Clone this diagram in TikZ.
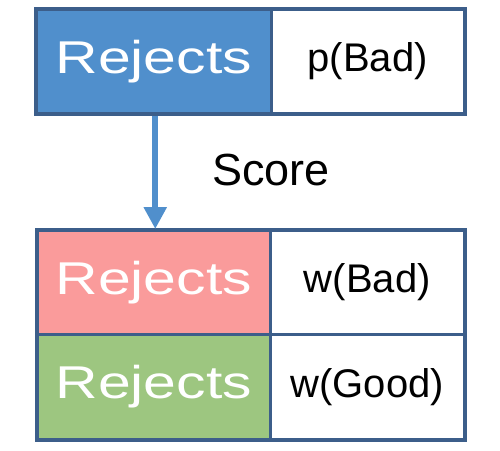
\documentclass[tikz,border=0pt]{standalone}
\usepackage{fontspec}
\setmainfont{Liberation Sans}
\usetikzlibrary{arrows.meta}
\definecolor{cellblue}{RGB}{80,143,204}
\definecolor{cellpink}{RGB}{250,155,155}
\definecolor{cellgreen}{RGB}{157,198,128}
\definecolor{edgeblue}{RGB}{60,94,138}
\definecolor{arrowblue}{RGB}{80,143,204}
\newcommand{\rej}{\scalebox{1.28}[1]{\fontsize{46}{50}\selectfont Rejects}}
\begin{document}
\begin{tikzpicture}[x=1pt,y=-1pt,
  cell/.style={draw=edgeblue,line width=2.5pt,inner sep=0pt,anchor=north west},
  lefttext/.style={text=white},
  righttext/.style={font=\fontsize{40}{44}\selectfont,text=black,fill=white}]
\useasboundingbox (0,0) rectangle (500,450);
% top row
\node[cell,fill=cellblue,lefttext,minimum width=235pt,minimum height=104pt] (tl) at (35,8) {\rej};
\node[cell,righttext,minimum width=193pt,minimum height=104pt] (tr) at (270,8) {p(Bad)};
% bottom rows
\node[cell,fill=cellpink,lefttext,minimum width=233pt,minimum height=104pt] (ml) at (36,229) {\rej};
\node[cell,righttext,minimum width=194pt,minimum height=104pt] (mr) at (269,229) {w(Bad)};
\node[cell,fill=cellgreen,lefttext,minimum width=233pt,minimum height=105pt] (bl) at (36,333) {\rej};
\node[cell,righttext,minimum width=194pt,minimum height=105pt] (br) at (269,333) {w(Good)};
% redraw borders on top
\draw[edgeblue,line width=2.5pt] (tl.north west) rectangle (tr.south east);
\draw[edgeblue,line width=2.5pt] (ml.north west) rectangle (br.south east);
% arrow
\draw[arrowblue,line width=6pt,-{Triangle[width=22pt,length=22pt]}] ([xshift=1.5pt,yshift=-1.3pt]tl.south) -- ([xshift=1.5pt]ml.north);
% label
\node[font=\fontsize{45}{50}\selectfont] (score) at (271,170) {Score};
\end{tikzpicture}
\end{document}
